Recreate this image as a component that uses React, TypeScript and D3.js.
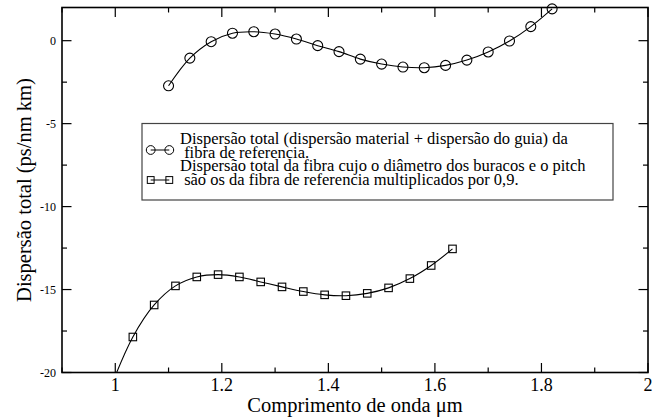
import React from "react";
import * as d3 from "d3";

const circleX = [1.10, 1.14, 1.18, 1.22, 1.26, 1.30, 1.34, 1.38, 1.42, 1.46, 1.50, 1.54, 1.58, 1.62, 1.66, 1.70, 1.74, 1.78, 1.82];
const circleY = [-2.72, -1.05, -0.06, 0.45, 0.54, 0.40, 0.10, -0.30, -0.66, -1.11, -1.41, -1.59, -1.63, -1.49, -1.17, -0.68, -0.02, 0.85, 1.92];

const squareX = [1.033, 1.073, 1.113, 1.153, 1.193, 1.233, 1.273, 1.313, 1.353, 1.393, 1.433, 1.473, 1.513, 1.553, 1.593, 1.633];
const squareY = [-17.86, -15.93, -14.78, -14.24, -14.10, -14.24, -14.54, -14.84, -15.12, -15.32, -15.37, -15.23, -14.90, -14.34, -13.55, -12.55];
// leading part of the fitted curve for the squares (continues below the axis)
const squareCurveLeadX = [0.99];
const squareCurveLeadY = [-21.0];

const xMajorTicks = [1, 1.2, 1.4, 1.6, 1.8, 2];
const xTickLabels = ["1", "1.2", "1.4", "1.6", "1.8", "2"];
const xMinorTicks = [0.9, 1.1, 1.3, 1.5, 1.7, 1.9];
const yMajorTicks = [0, -5, -10, -15, -20];
const yTickLabels = ["0", "-5", "-10", "-15", "-20"];
const yMinorTicks = [-2.5, -7.5, -12.5, -17.5];

const legendLines = [
  "Dispersão total (dispersão material + dispersão do guia) da",
  " fibra de referencia.",
  "Dispersão total da fibra cujo o diâmetro dos buracos e o pitch",
  " são os da fibra de referencia multiplicados por 0,9.",
];
const xTitle = "Comprimento de onda μm";
const yTitle = "Dispersão total (ps/nm km)";

const W = 662, H = 419;
const L = 62, R = 648, T = 7.5, B = 372.5;
const FONT = "Liberation Serif";

export default function App() {
  const x = d3.scaleLinear().domain([0.9, 2]).range([L, R]);
  const y = d3.scaleLinear().domain([-20, 2]).range([B, T]);

  const circ = circleX.map((v, i) => [v, circleY[i]] as [number, number]);
  const sq = squareX.map((v, i) => [v, squareY[i]] as [number, number]);
  const sqCurve = [
    ...squareCurveLeadX.map((v, i) => [v, squareCurveLeadY[i]] as [number, number]),
    ...sq,
  ];

  const line = d3
    .line<[number, number]>()
    .x((d) => x(d[0]))
    .y((d) => y(d[1]))
    .curve(d3.curveCatmullRom.alpha(0.5));

  const majLen = 9.5, minLen = 5;
  const sqS = 7.5;
  const cr = 5;
  const legendBaselines = [144, 157.6, 171.2, 184.8];

  return (
    <svg width={W} height={H} style={{ position: "absolute", left: 0, top: 0, background: "#fff" }} fontFamily={FONT}>
      <defs>
        <clipPath id="plotclip">
          <rect x={L} y={T} width={R - L} height={B - T} />
        </clipPath>
      </defs>
      <rect x={0} y={0} width={W} height={H} fill="#fff" />

      <g clipPath="url(#plotclip)" fill="none" stroke="#000" strokeWidth={1.1}>
        <path d={line(circ) || ""} />
        <path d={line(sqCurve) || ""} />
      </g>

      <g fill="none" stroke="#000" strokeWidth={1.1}>
        {circ.map((d, i) => (
          <circle key={"c" + i} cx={x(d[0])} cy={y(d[1])} r={cr} />
        ))}
        {sq.map((d, i) => (
          <rect key={"s" + i} x={x(d[0]) - sqS / 2} y={y(d[1]) - sqS / 2} width={sqS} height={sqS} />
        ))}
      </g>

      <rect x={L} y={T} width={R - L} height={B - T} fill="none" stroke="#000" strokeWidth={1.6} />

      <g stroke="#000" strokeWidth={1.2}>
        {xMajorTicks.map((t, i) => (
          <g key={"xm" + i}>
            <line x1={x(t)} x2={x(t)} y1={B} y2={B - majLen} />
            <line x1={x(t)} x2={x(t)} y1={T} y2={T + majLen} />
          </g>
        ))}
        {xMinorTicks.map((t, i) => (
          <g key={"xn" + i}>
            <line x1={x(t)} x2={x(t)} y1={B} y2={B - minLen} />
            <line x1={x(t)} x2={x(t)} y1={T} y2={T + minLen} />
          </g>
        ))}
        {yMajorTicks.map((t, i) => (
          <g key={"ym" + i}>
            <line x1={L} x2={L + majLen} y1={y(t)} y2={y(t)} />
            <line x1={R} x2={R - majLen} y1={y(t)} y2={y(t)} />
          </g>
        ))}
        {yMinorTicks.map((t, i) => (
          <g key={"yn" + i}>
            <line x1={L} x2={L + minLen} y1={y(t)} y2={y(t)} />
            <line x1={R} x2={R - minLen} y1={y(t)} y2={y(t)} />
          </g>
        ))}
      </g>

      <g fontSize={18} textAnchor="middle" fill="#000">
        {xMajorTicks.map((t, i) => (
          <text key={"xl" + i} x={x(t)} y={391}>
            {xTickLabels[i]}
          </text>
        ))}
      </g>
      <g fontSize={12} textAnchor="end" fill="#000">
        {yMajorTicks.map((t, i) => (
          <text key={"yl" + i} x={56} y={y(t)} dy="0.35em">
            {yTickLabels[i]}
          </text>
        ))}
      </g>

      <text x={(L + R) / 2} y={412} fontSize={20.5} textAnchor="middle">
        {xTitle}
      </text>
      <text transform={`translate(31,${(T + B) / 2}) rotate(-90)`} fontSize={20.5} textAnchor="middle">
        {yTitle}
      </text>

      <rect x={142} y={123.5} width={471} height={76.5} fill="#fff" stroke="#444" strokeWidth={1.2} />
      <g fill="none" stroke="#000" strokeWidth={1}>
        <line x1={150.7} x2={169.3} y1={150} y2={150} />
        <circle cx={150.7} cy={150} r={4.4} />
        <circle cx={169.3} cy={150} r={4.4} />
        <line x1={150.7} x2={169.3} y1={180} y2={180} />
        <rect x={150.7 - 3.4} y={180 - 3.4} width={6.8} height={6.8} />
        <rect x={169.3 - 3.4} y={180 - 3.4} width={6.8} height={6.8} />
      </g>
      <g fontSize={16.5} fill="#000">
        {legendLines.map((s, i) => (
          <text key={"lg" + i} x={180} y={legendBaselines[i]} style={{ whiteSpace: "pre" }}>
            {s}
          </text>
        ))}
      </g>
    </svg>
  );
}
